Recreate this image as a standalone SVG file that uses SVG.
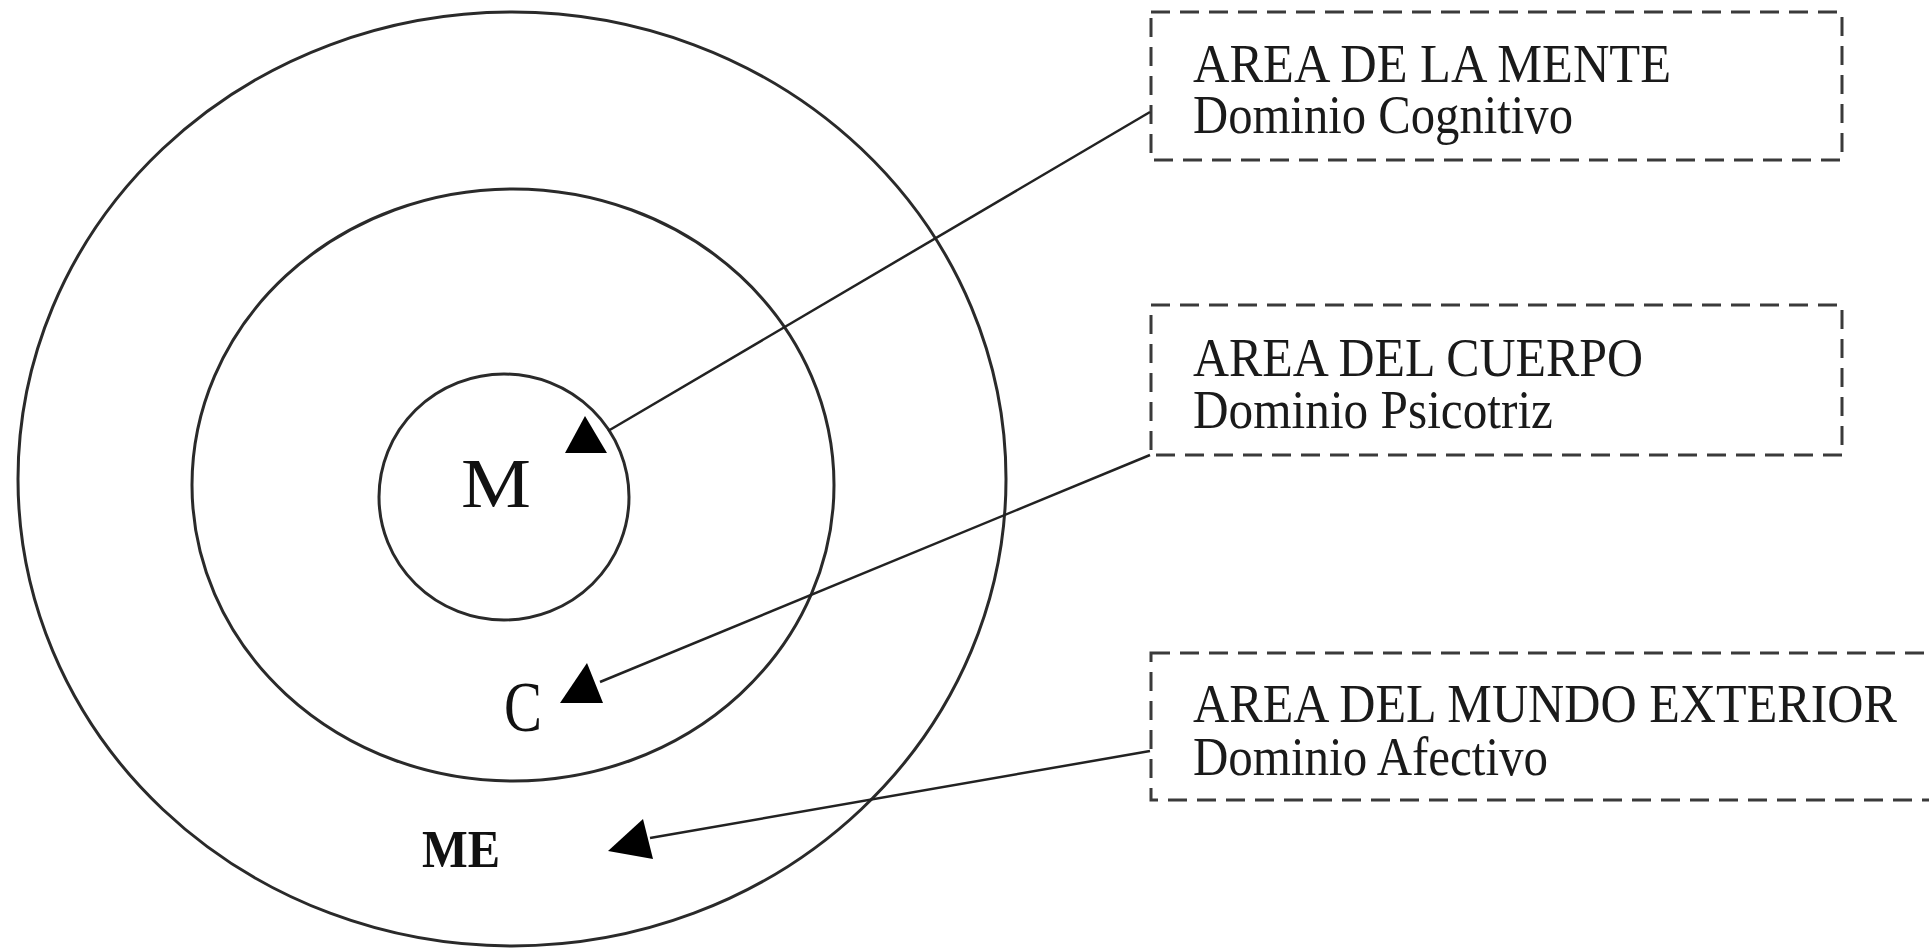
<svg xmlns="http://www.w3.org/2000/svg" width="1929" height="949" viewBox="0 0 1929 949">
<style>
.ring{fill:none;stroke:#2a2a2a;stroke-width:3}
.box{fill:#fff;stroke:#3a3a3a;stroke-width:3;stroke-dasharray:19 10}
.conn{stroke:#222;stroke-width:2.5;fill:none}
.head{fill:#000}
.t{font-family:"Liberation Serif","Times New Roman",serif;font-size:54px;fill:#1a1a1a}
.c{font-family:"Liberation Serif","Times New Roman",serif;fill:#111;text-anchor:middle}
</style>
<rect width="1929" height="949" fill="#fff"/>
<g id="outer">
<ellipse class="ring" cx="512" cy="479" rx="494" ry="467"/>
<text class="c" x="461" y="867" font-size="52" font-weight="bold" textLength="78" lengthAdjust="spacingAndGlyphs">ME</text>
</g>
<g id="middle">
<ellipse class="ring" cx="513" cy="485" rx="321" ry="296"/>
<text class="c" x="523" y="731" font-size="72" textLength="38" lengthAdjust="spacingAndGlyphs">C</text>
</g>
<g id="inner">
<ellipse class="ring" cx="504" cy="497" rx="125" ry="123"/>
<text class="c" x="496" y="507" font-size="70" textLength="70" lengthAdjust="spacingAndGlyphs">M</text>
</g>
<g id="box-mente">
<rect class="box" x="1151" y="12" width="691" height="148"/>
<text class="t" x="1193" y="82" textLength="478" lengthAdjust="spacingAndGlyphs">AREA DE LA MENTE</text>
<text class="t" x="1193" y="133" textLength="380" lengthAdjust="spacingAndGlyphs">Dominio Cognitivo</text>
</g>
<g id="box-cuerpo">
<rect class="box" x="1151" y="305" width="691" height="150"/>
<text class="t" x="1193" y="376" textLength="450" lengthAdjust="spacingAndGlyphs">AREA DEL CUERPO</text>
<text class="t" x="1193" y="428" textLength="360" lengthAdjust="spacingAndGlyphs">Dominio Psicotriz</text>
</g>
<g id="box-mundo">
<rect class="box" x="1151" y="653" width="800" height="147"/>
<text class="t" x="1193" y="722" textLength="704" lengthAdjust="spacingAndGlyphs">AREA DEL MUNDO EXTERIOR</text>
<text class="t" x="1193" y="775" textLength="355" lengthAdjust="spacingAndGlyphs">Dominio Afectivo</text>
</g>
<g id="connectors">
<line class="conn" x1="1150" y1="112" x2="608" y2="431"/>
<polygon class="head" points="585,416 565,453 607,453"/>
<line class="conn" x1="1150" y1="455" x2="600" y2="682"/>
<polygon class="head" points="587,663 560,703 603,703"/>
<line class="conn" x1="1150" y1="751" x2="650" y2="838"/>
<polygon class="head" points="608,851 643,819 653,859"/>
</g>
</svg>
